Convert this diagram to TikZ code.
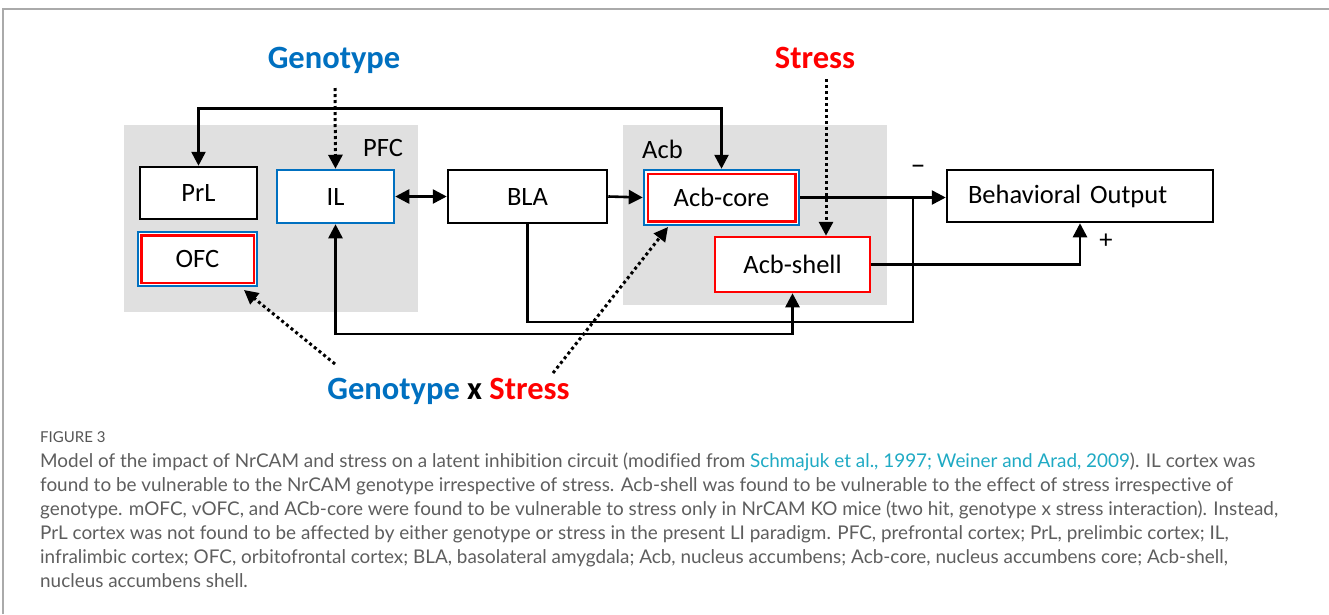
\documentclass[tikz,border=0pt]{standalone}
\usepackage{fontspec}
\setmainfont{Carlito}
\newfontfamily\capfont[Ligatures=NoCommon]{Lato}
\usetikzlibrary{arrows.meta,calc}
\definecolor{gblue}{HTML}{0070C0}
\definecolor{gred}{HTML}{FF0000}
\definecolor{region}{HTML}{E0E0E0}
\definecolor{captext}{HTML}{5E5E5E}
\definecolor{citec}{HTML}{1FAAC4}
\definecolor{framec}{HTML}{AAAAAA}
\begin{document}
\begin{tikzpicture}[x=1pt,y=-1pt,
  box/.style={draw=black,line width=2.5pt,fill=white,inner sep=0pt,font=\fontsize{26.5}{30}\selectfont},
  bbox/.style={box,draw=gblue},
  rbox/.style={box,draw=gred},
  conn/.style={line width=2.6pt,draw=black},
  arr/.style={conn,-{Triangle[length=14pt,width=14pt]}},
  darr/.style={conn,{Triangle[length=14pt,width=14pt]}-{Triangle[length=14pt,width=14pt]}},
  dotarr/.style={line width=3pt,dash pattern=on 3pt off 3pt,-{Triangle[length=14pt,width=14pt]}},
  lbl/.style={font=\fontsize{26.5}{30}\selectfont,inner sep=0pt},
  big/.style={font=\fontsize{32.5}{38}\selectfont\bfseries,inner sep=0pt},
  capline/.style={font=\capfont\fontsize{18.9}{22}\selectfont,text=captext,anchor=base west,inner sep=0pt}
]
\useasboundingbox[fill=white] (0,0) rectangle (1329,614);
% frame
\draw[framec,line width=1.2pt] (3,614) -- (3,9) -- (1329,9);
% regions
\fill[region] (124,125) rectangle (418,312);
\fill[region] (623,125) rectangle (887,305);
\node[lbl,anchor=west] (pfc) at (363,148) {PFC};
\node[lbl,anchor=west] (acb) at (642,149) {Acb};
% nodes
\node[box,minimum width=117pt,minimum height=52pt] (prl) at (198.5,193) {PrL};
\node[bbox,minimum width=117pt,minimum height=53pt] (il) at (335.5,196.5) {IL};
\node[bbox,minimum width=119pt,minimum height=54pt] (ofc) at (197.5,259) {OFC};
\draw[gred,line width=2.5pt] ($(ofc.north west)+(4.5,4.5)$) rectangle ($(ofc.south east)+(-4.5,-4.5)$);
\node[box,minimum width=159pt,minimum height=53pt] (bla) at (527.5,196.5) {BLA};
\node[bbox,minimum width=155pt,minimum height=55pt] (acbcore) at (721.5,197.5) {Acb-core};
\draw[gred,line width=2.5pt] ($(acbcore.north west)+(5,5)$) rectangle ($(acbcore.south east)+(-5,-5)$);
\node[rbox,minimum width=155pt,minimum height=55pt] (acbshell) at (792.5,264.5) {Acb-shell};
\node[box,minimum width=266pt,minimum height=52pt,text width=224pt,align=left] (bo) at (1080,196) {Behavioral Output};
% factor labels
\node[big,text=gblue] (geno) at (334,60) {Genotype};
\node[big,text=gred] (stress) at (815,58) {Stress};
\node[big] (gxs) at (448.5,391) {\textcolor{gblue}{Genotype} x \textcolor{gred}{Stress}};
\node[lbl,font=\fontsize{30}{34}\selectfont] (minus) at (918,170) {\textendash};
\node[lbl] (plus) at (1106,241) {+};
% coordinates
\coordinate (g1) at (335,88);
\coordinate (s1) at (826,79);
\coordinate (j) at (913,197.5);
\coordinate (jb) at (913,322);
\coordinate (gx1) at (335,364);
\coordinate (gx2) at (553,373);
\coordinate (ofctip) at (244,290);
\coordinate (coretip) at (668,227);
% connectors
\draw[darr] (prl.north) -- ++(0,-57) -| (acbcore.north);
\draw[dotarr] (g1) -- (il.north);
\draw[dotarr] (s1) -- (s1 |- acbshell.north);
\draw[darr] (il.east) -- (bla.west);
\draw[arr] (bla.east) -- (acbcore.west);
\draw[arr] (acbcore.east) -- (acbcore.east -| bo.west);
\draw[conn] (bla.south) |- (jb) -- (j);
\draw[darr] (il.south) -- (335.5,334) -| (acbshell.south);
\draw[arr] (acbshell.east) -| (bo.south);
\draw[dotarr] (gx1) -- (ofctip);
\draw[dotarr] (gx2) -- (coretip);
% caption
\node[capline,font=\capfont\fontsize{15}{18}\selectfont,text=captext!90!black] (fig) at (40,442) {FIGURE 3};
\node[capline] (c1) at (40,467) {Model of the impact of NrCAM and stress on a latent inhibition circuit (modified from \textcolor{citec}{Schmajuk et al., 1997; Weiner and Arad, 2009}). IL cortex was};
\node[capline] (c2) at (40,491) {found to be vulnerable to the NrCAM genotype irrespective of stress. Acb-shell was found to be vulnerable to the effect of stress irrespective of};
\node[capline] (c3) at (40,515) {genotype. mOFC, vOFC, and ACb-core were found to be vulnerable to stress only in NrCAM KO mice (two hit, genotype x stress interaction). Instead,};
\node[capline] (c4) at (40,539) {PrL cortex was not found to be affected by either genotype or stress in the present LI paradigm. PFC, prefrontal cortex; PrL, prelimbic cortex; IL,};
\node[capline] (c5) at (40,563) {infralimbic cortex; OFC, orbitofrontal cortex; BLA, basolateral amygdala; Acb, nucleus accumbens; Acb-core, nucleus accumbens core; Acb-shell,};
\node[capline] (c6) at (40,587) {nucleus accumbens shell.};
\end{tikzpicture}
\end{document}
